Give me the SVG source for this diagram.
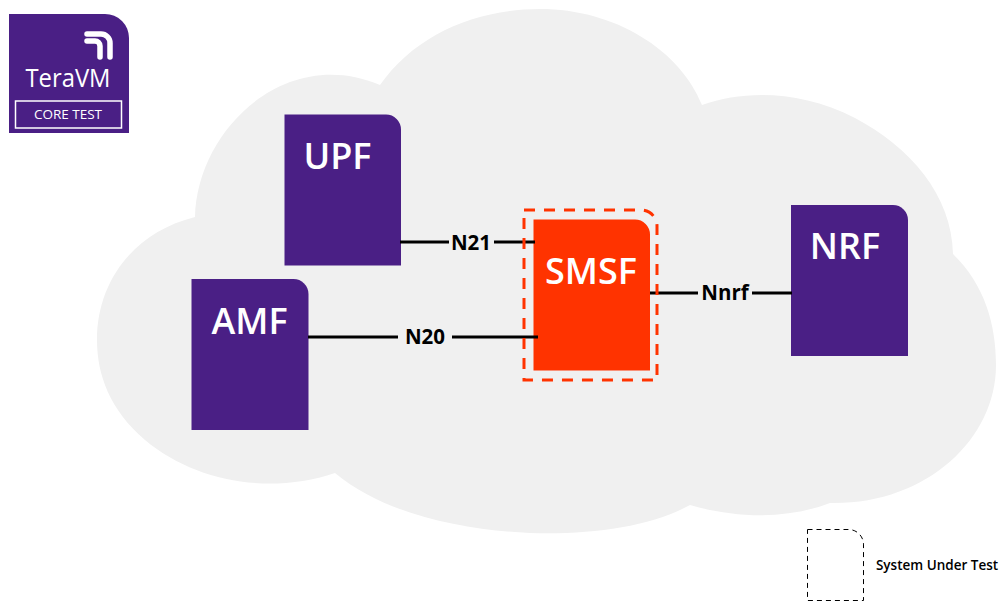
<svg xmlns="http://www.w3.org/2000/svg" width="1000" height="601" viewBox="0 0 1000 601">
<style>
text{font-family:"Open Sans","Noto Sans","Liberation Sans",sans-serif}
.n{fill:#4a1f85}
.t{fill:#fff;font-weight:600;font-size:36px;text-anchor:middle}
.l{fill:#000;font-weight:700;font-size:20.500px;text-anchor:middle}
.c{stroke:#000;stroke-width:3;fill:none}
</style>
<g id="cloud"><path fill="#f0f0f0" d="M195 217C197 130 285 45 380 85C415 35 475 9 540 9C615 9 680 50 702 105C745 90 800 90 855 118C910 147 952 195 953 254C985 285 996 325 996 365C996 440 925 505 830 503C785 520 735 518 690 505C650 527 590 535 530 533C465 530 385 515 335 473C270 495 195 482 145 440C110 410 97 375 97 340C97 280 135 232 195 217Z"/></g>
<g id="upf"><path class="n" d="M284.500 114.500H386a15 15 0 0 1 15 15V265.500H284.500Z"/><text class="t" x="337.500" y="169">UPF</text></g>
<g id="amf"><path class="n" d="M191.500 279H293.500a15 15 0 0 1 15 15V430H191.500Z"/><text class="t" x="249.500" y="334">AMF</text></g>
<g id="nrf"><path class="n" d="M791 205H893a15 15 0 0 1 15 15V356H791Z"/><text class="t" x="845" y="259">NRF</text></g>
<g id="smsf"><path fill="#ff3300" d="M533.500 219.500H635a15 15 0 0 1 15 15V370.500H533.500Z"/><text class="t" x="591" y="284">SMSF</text></g>
<g id="connectors">
<path class="c" d="M400 242H449M494 242H535"/>
<path class="c" d="M308 337H398M452 337H538"/>
<path class="c" d="M650 293H698M752 293H792"/>
</g>
<g id="sut"><path fill="none" stroke="#ff3300" stroke-width="3" stroke-dasharray="11 9" d="M524 210H641a16 16 0 0 1 16 16V380H524Z"/></g>
<g id="n21"><text class="l" x="471" y="250">N21</text></g>
<g id="n20"><text class="l" x="425" y="344">N20</text></g>
<g id="nnrf"><text class="l" x="725" y="300">Nnrf</text></g>
<g id="logo"><path class="n" d="M9 14H105a24 24 0 0 1 24 24V133H9Z"/>
<path fill="none" stroke="#fff" stroke-width="5.500" stroke-linecap="round" d="M87 34H101a9 9 0 0 1 9 9V57M87 41H95a5 5 0 0 1 5 5V57"/>
<text x="68" y="87" fill="#fff" font-size="26" font-weight="500" text-anchor="middle" textLength="85" lengthAdjust="spacingAndGlyphs">TeraVM</text>
<rect x="15.500" y="101" width="106" height="27" fill="none" stroke="#fff" stroke-width="1.500"/>
<text x="68" y="119" fill="#fff" font-size="13.500" font-weight="500" text-anchor="middle">CORE TEST</text></g>
<g id="legend"><path fill="none" stroke="#000" stroke-width="1" stroke-dasharray="5 4" d="M807.500 529.500H848a15 15 0 0 1 15.500 15.500V600.500H807.500Z"/><text x="937" y="570" fill="#000" font-size="13.500" font-weight="600" text-anchor="middle">System Under Test</text></g>
</svg>
